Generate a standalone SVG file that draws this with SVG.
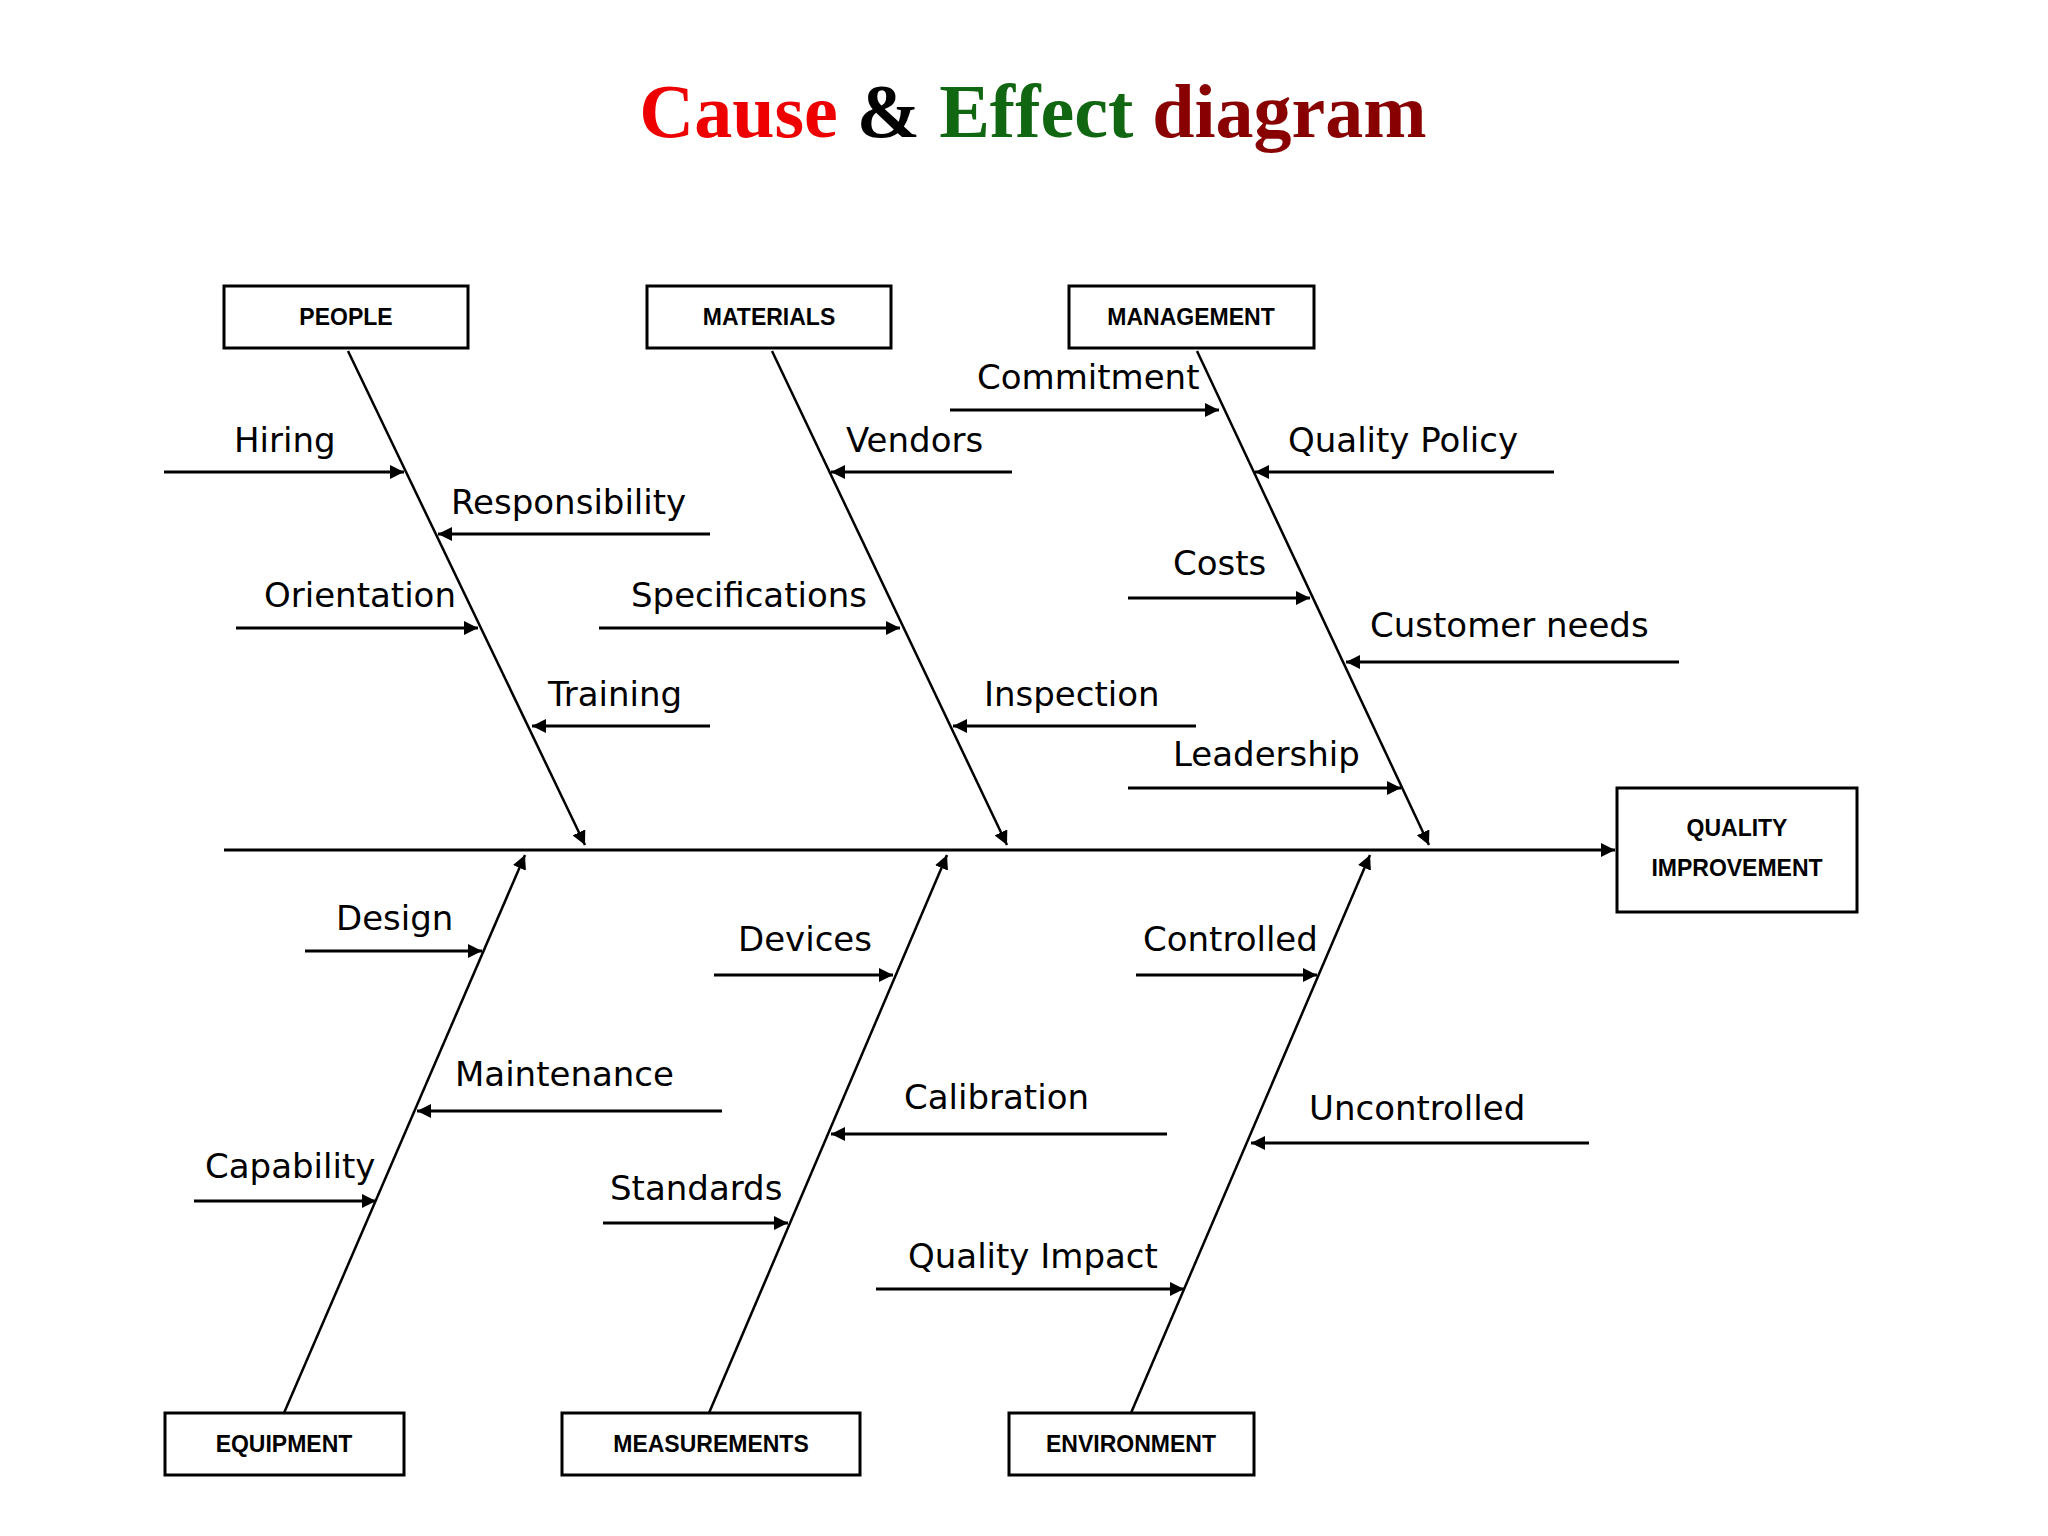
<svg xmlns="http://www.w3.org/2000/svg" width="2048" height="1536" viewBox="0 0 2048 1536">
<defs>
<marker id="ah" viewBox="0 0 10 10" refX="10" refY="5" markerWidth="14" markerHeight="14" markerUnits="userSpaceOnUse" orient="auto"><path d="M0,0 L10,5 L0,10 z" fill="#000"/></marker>
</defs>
<style>
.box{fill:#fff;stroke:#000;stroke-width:3}
.bt{font-family:"Liberation Sans",Arial,sans-serif;font-weight:bold;font-size:23px;text-anchor:middle}
.l{font-family:"DejaVu Sans","Liberation Sans",sans-serif;font-size:34px;fill:#000}
.rib{stroke:#000;stroke-width:3;fill:none}
.bone{stroke:#000;stroke-width:2.5;fill:none}
</style>
<rect width="2048" height="1536" fill="#fff"/>
<text x="1033" y="137" text-anchor="middle" font-family="Liberation Serif,serif" font-weight="bold" font-size="76"><tspan fill="#ee0000">Cause</tspan><tspan fill="#000"> &amp; </tspan><tspan fill="#116611">Effect</tspan><tspan fill="#880000"> diagram</tspan></text>
<g id="connectors">
<line class="rib" x1="224" y1="850" x2="1615" y2="850" marker-end="url(#ah)"/>
<line class="bone" x1="348" y1="351" x2="585" y2="845" marker-end="url(#ah)"/>
<line class="bone" x1="772" y1="351" x2="1007" y2="845" marker-end="url(#ah)"/>
<line class="bone" x1="1197" y1="351" x2="1429" y2="845" marker-end="url(#ah)"/>
<line class="bone" x1="284" y1="1413" x2="525" y2="855" marker-end="url(#ah)"/>
<line class="bone" x1="709" y1="1413" x2="947" y2="855" marker-end="url(#ah)"/>
<line class="bone" x1="1131" y1="1413" x2="1370" y2="855" marker-end="url(#ah)"/>
<line class="rib" x1="164" y1="472" x2="404" y2="472" marker-end="url(#ah)"/>
<line class="rib" x1="710" y1="534" x2="438" y2="534" marker-end="url(#ah)"/>
<line class="rib" x1="236" y1="628" x2="478" y2="628" marker-end="url(#ah)"/>
<line class="rib" x1="710" y1="726" x2="532" y2="726" marker-end="url(#ah)"/>
<line class="rib" x1="1012" y1="472" x2="831" y2="472" marker-end="url(#ah)"/>
<line class="rib" x1="599" y1="628" x2="900" y2="628" marker-end="url(#ah)"/>
<line class="rib" x1="1196" y1="726" x2="953" y2="726" marker-end="url(#ah)"/>
<line class="rib" x1="950" y1="410" x2="1219" y2="410" marker-end="url(#ah)"/>
<line class="rib" x1="1554" y1="472" x2="1255" y2="472" marker-end="url(#ah)"/>
<line class="rib" x1="1128" y1="598" x2="1310" y2="598" marker-end="url(#ah)"/>
<line class="rib" x1="1679" y1="662" x2="1346" y2="662" marker-end="url(#ah)"/>
<line class="rib" x1="1128" y1="788" x2="1401" y2="788" marker-end="url(#ah)"/>
<line class="rib" x1="305" y1="951" x2="482" y2="951" marker-end="url(#ah)"/>
<line class="rib" x1="722" y1="1111" x2="417" y2="1111" marker-end="url(#ah)"/>
<line class="rib" x1="194" y1="1201" x2="376" y2="1201" marker-end="url(#ah)"/>
<line class="rib" x1="714" y1="975" x2="893" y2="975" marker-end="url(#ah)"/>
<line class="rib" x1="1167" y1="1134" x2="831" y2="1134" marker-end="url(#ah)"/>
<line class="rib" x1="603" y1="1223" x2="788" y2="1223" marker-end="url(#ah)"/>
<line class="rib" x1="1136" y1="975" x2="1317" y2="975" marker-end="url(#ah)"/>
<line class="rib" x1="1589" y1="1143" x2="1251" y2="1143" marker-end="url(#ah)"/>
<line class="rib" x1="876" y1="1289" x2="1184" y2="1289" marker-end="url(#ah)"/>
</g>
<g id="labels">
<text class="l" x="234" y="452">Hiring</text>
<text class="l" x="451" y="514">Responsibility</text>
<text class="l" x="264" y="607">Orientation</text>
<text class="l" x="548" y="706">Training</text>
<text class="l" x="846" y="452">Vendors</text>
<text class="l" x="631" y="607">Specifications</text>
<text class="l" x="984" y="706">Inspection</text>
<text class="l" x="977" y="389">Commitment</text>
<text class="l" x="1288" y="452">Quality  Policy</text>
<text class="l" x="1173" y="575">Costs</text>
<text class="l" x="1370" y="637">Customer needs</text>
<text class="l" x="1173" y="766">Leadership</text>
<text class="l" x="336" y="930">Design</text>
<text class="l" x="455" y="1086">Maintenance</text>
<text class="l" x="205" y="1178">Capability</text>
<text class="l" x="738" y="951">Devices</text>
<text class="l" x="904" y="1109">Calibration</text>
<text class="l" x="610" y="1200">Standards</text>
<text class="l" x="1143" y="951">Controlled</text>
<text class="l" x="1309" y="1120">Uncontrolled</text>
<text class="l" x="908" y="1268">Quality  Impact</text>
</g>
<g id="people"><rect class="box" x="224" y="286" width="244" height="62"/><text class="bt" x="346" y="325">PEOPLE</text></g>
<g id="materials"><rect class="box" x="647" y="286" width="244" height="62"/><text class="bt" x="769" y="325">MATERIALS</text></g>
<g id="management"><rect class="box" x="1069" y="286" width="245" height="62"/><text class="bt" x="1191" y="325">MANAGEMENT</text></g>
<g id="quality"><rect class="box" x="1617" y="788" width="240" height="124"/><text class="bt" x="1737" y="836">QUALITY</text><text class="bt" x="1737" y="876">IMPROVEMENT</text></g>
<g id="equipment"><rect class="box" x="165" y="1413" width="239" height="62"/><text class="bt" x="284" y="1452">EQUIPMENT</text></g>
<g id="measurements"><rect class="box" x="562" y="1413" width="298" height="62"/><text class="bt" x="711" y="1452">MEASUREMENTS</text></g>
<g id="environment"><rect class="box" x="1009" y="1413" width="245" height="62"/><text class="bt" x="1131" y="1452">ENVIRONMENT</text></g>
</svg>
